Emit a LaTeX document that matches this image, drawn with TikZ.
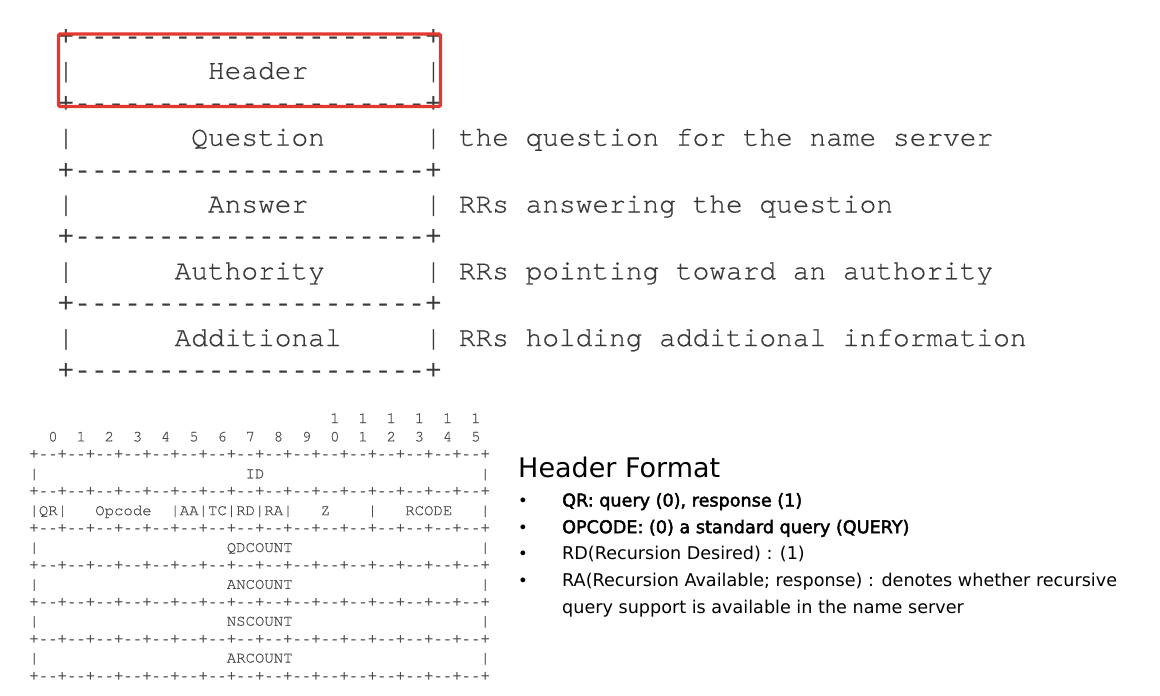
\documentclass[tikz,border=0pt]{standalone}
\usepackage{fontspec}
\setmonofont{Liberation Mono}
\newfontfamily\cursorfont{TeX Gyre Cursor}[FakeBold=0.6]
\newfontfamily\notefont{DejaVu Sans}
\newfontfamily\noteboldfont{DejaVu Sans}[FakeBold=2.4]
\usepackage{tikz}
\usetikzlibrary{positioning}
\definecolor{asciigray}{HTML}{3A3A3A}
\definecolor{tablegray}{HTML}{4A4A4A}
\definecolor{markred}{HTML}{E2382D}
% n monospace blanks
\newcommand{\blanks}[1]{\kern#1\fontcharwd\font`\ \relax}
\newcommand{\bitrule}{+--+--+--+--+--+--+--+--+--+--+--+--+--+--+--+--+}
\newcommand{\msgrule}{+---------------------+}

\begin{document}
\begin{tikzpicture}[
    x=1bp, y=-1bp,
    msgrow/.style={font=\cursorfont\fontsize{27.83bp}{33.4bp}\selectfont, text=asciigray, inner sep=0pt, anchor=base west},
    msgline/.style={msgrow, font=\ttfamily\fontsize{27.83bp}{33.4bp}\selectfont},
    fmtrow/.style={font=\cursorfont\fontsize{15.66bp}{18.43bp}\selectfont, text=tablegray, inner sep=0pt, anchor=base west},
    fmtline/.style={fmtrow, font=\ttfamily\fontsize{15.66bp}{18.43bp}\selectfont},
    hilite/.style={rectangle, draw=markred, line width=3.3bp, rounded corners=1.5bp, minimum width=382bp, minimum height=72.5bp, inner sep=0pt},
    fmtitem/.style={font=\notefont\fontsize{17.6bp}{20bp}\selectfont, inner sep=0pt, anchor=base west},
    keyitem/.style={fmtitem, font=\noteboldfont\fontsize{17.6bp}{20bp}\selectfont},
    bulletmark/.style={font=\notefont\fontsize{16.5bp}{20bp}\selectfont, inner sep=0pt, anchor=base}
]
\useasboundingbox (0,0) rectangle (1160,696);

% message sections
\node[msgline] (hdrtop) at (57.5,45.5) {\msgrule};
\node[msgrow] (hdr) at ([yshift=-33.4bp]hdrtop.base west) {|\blanks{8}Header\blanks{7}|};
\node[msgline] (hdrbot) at ([yshift=-33.4bp]hdr.base west) {\msgrule};
\node[msgrow] (qst) at ([yshift=-33.4bp]hdrbot.base west) {|\blanks{7}Question\blanks{6}|};
\node[msgline] (qstbot) at ([yshift=-33.4bp]qst.base west) {\msgrule};
\node[msgrow] (ans) at ([yshift=-33.4bp]qstbot.base west) {|\blanks{8}Answer\blanks{7}|};
\node[msgline] (ansbot) at ([yshift=-33.4bp]ans.base west) {\msgrule};
\node[msgrow] (auth) at ([yshift=-33.4bp]ansbot.base west) {|\blanks{6}Authority\blanks{6}|};
\node[msgline] (authbot) at ([yshift=-33.4bp]auth.base west) {\msgrule};
\node[msgrow] (add) at ([yshift=-33.4bp]authbot.base west) {|\blanks{6}Additional\blanks{5}|};
\node[msgline] (addbot) at ([yshift=-33.4bp]add.base west) {\msgrule};

\node[msgrow] (qstnote) at ([xshift=16.7bp]qst.base east) {the question for the name server};
\node[msgrow] (ansnote) at ([xshift=16.7bp]ans.base east) {RRs answering the question};
\node[msgrow] (authnote) at ([xshift=16.7bp]auth.base east) {RRs pointing toward an authority};
\node[msgrow] (addnote) at ([xshift=16.7bp]add.base east) {RRs holding additional information};

\node[hilite] (hdrmark) at (249.5,70.25) {};

% header format
\node[fmtrow] (bitshi) at (29.3,423) {\blanks{32}1~~1~~1~~1~~1~~1};
\node[fmtrow] (bitslo) at ([yshift=-18.43bp]bitshi.base west) {~~0~~1~~2~~3~~4~~5~~6~~7~~8~~9~~0~~1~~2~~3~~4~~5};
\node[fmtline] (rule0) at ([yshift=-18.43bp]bitslo.base west) {\bitrule};
\node[fmtrow] (idrow) at ([yshift=-18.43bp]rule0.base west) {|\blanks{22}ID\blanks{23}|};
\node[fmtline] (rule1) at ([yshift=-18.43bp]idrow.base west) {\bitrule};
\node[fmtrow] (flags) at ([yshift=-18.43bp]rule1.base west) {|QR|\blanks{3}Opcode\blanks{2}|AA|TC|RD|RA|\blanks{3}Z\blanks{4}|\blanks{3}RCODE\blanks{3}|};
\node[fmtline] (rule2) at ([yshift=-18.43bp]flags.base west) {\bitrule};
\node[fmtrow] (qdc) at ([yshift=-18.43bp]rule2.base west) {|\blanks{20}QDCOUNT\blanks{20}|};
\node[fmtline] (rule3) at ([yshift=-18.43bp]qdc.base west) {\bitrule};
\node[fmtrow] (anc) at ([yshift=-18.43bp]rule3.base west) {|\blanks{20}ANCOUNT\blanks{20}|};
\node[fmtline] (rule4) at ([yshift=-18.43bp]anc.base west) {\bitrule};
\node[fmtrow] (nsc) at ([yshift=-18.43bp]rule4.base west) {|\blanks{20}NSCOUNT\blanks{20}|};
\node[fmtline] (rule5) at ([yshift=-18.43bp]nsc.base west) {\bitrule};
\node[fmtrow] (arc) at ([yshift=-18.43bp]rule5.base west) {|\blanks{20}ARCOUNT\blanks{20}|};
\node[fmtline] (rule6) at ([yshift=-18.43bp]arc.base west) {\bitrule};

% notes on the fields
\node[fmtitem, font=\notefont\fontsize{27bp}{30bp}\selectfont] (fmttitle) at (518,477) {Header Format};
\node[keyitem] (it1) at (562,506.5) {QR: query (0), response (1)};
\node[keyitem] (it2) at ([yshift=-26.7bp]it1.base west) {OPCODE: (0) a standard query (QUERY)};
\node[fmtitem] (it3) at ([yshift=-26.7bp]it2.base west) {RD(Recursion Desired) : (1)};
\node[fmtitem] (it4) at ([yshift=-26.7bp]it3.base west) {RA(Recursion Available; response) : denotes whether recursive};
\node[fmtitem] (it4b) at ([yshift=-26.7bp]it4.base west) {query support is available in the name server};
\node[bulletmark] (b1) at ([xshift=-39bp]it1.base west) {•};
\node[bulletmark] (b2) at ([xshift=-39bp]it2.base west) {•};
\node[bulletmark] (b3) at ([xshift=-39bp]it3.base west) {•};
\node[bulletmark] (b4) at ([xshift=-39bp]it4.base west) {•};
\end{tikzpicture}
\end{document}
